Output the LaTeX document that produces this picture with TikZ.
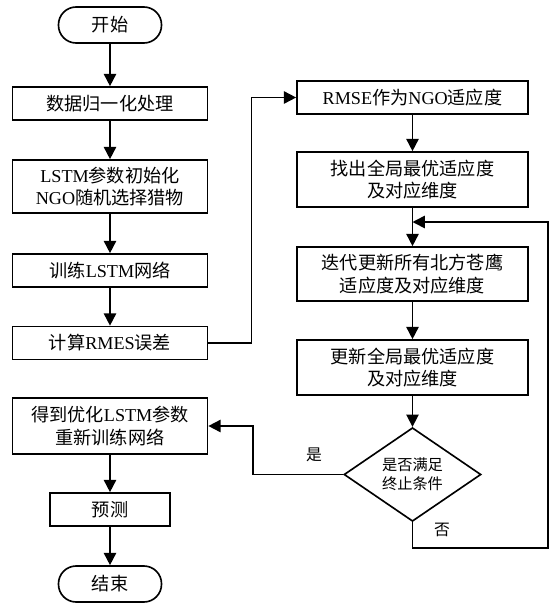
\documentclass[tikz,border=0pt]{standalone}
\usepackage{fontspec}
\setmainfont{Liberation Serif}
\newfontfamily\cjk{Noto Sans CJK SC}
\usetikzlibrary{arrows.meta,shapes.geometric}
\newcommand{\zh}[1]{{\cjk #1}}

\begin{document}
\begin{tikzpicture}[x=0.03cm,y=-0.03cm,line width=1.4pt,
    box/.style={draw,rectangle,minimum width=5.85cm,minimum height=0.99cm,
      align=center,inner sep=0pt,font=\fontsize{15.5}{19.5}\selectfont},
    term/.style={box,rounded corners=0.53cm,minimum width=3.09cm,minimum height=1.08cm},
    test/.style={draw,diamond,minimum width=4.11cm,minimum height=2.49cm,
      align=center,inner sep=0pt,font=\fontsize{13}{16}\selectfont},
    arr/.style={-{Triangle[width=10.5pt,length=10.5pt]}}]
       \useasboundingbox (0,0) rectangle (548,605);
       % left column
       \node[term] (start) at (110, 25.0) {\zh{开始}};
       \node[box ] (norm)  at (110,103.5) {\zh{数据归一化处理}};
       \node[box,minimum height=1.59cm] (init) at (110,186.5) {LSTM\zh{参数初始化}\\NGO\zh{随机选择猎物}};
       \node[box ] (train) at (110,270.5) {\zh{训练}LSTM\zh{网络}};
       \node[box ] (rmes)  at (110,343.0) {\zh{计算}RMES\zh{误差}};
       \node[box,minimum height=1.68cm] (result) at (110,426.0) {\zh{得到优化}LSTM\zh{参数}\\\zh{重新训练网络}};
       \node[box,minimum width=3.6cm] (pred) at (110,509.5) {\zh{预测}};
       \node[term] (stop)  at (110,584.0) {\zh{结束}};
       % right column
       \node[box,minimum width=6.93cm] (fit) at (412.5, 97.5) {RMSE\zh{作为}NGO\zh{适应度}};
       \node[box,minimum width=6.93cm,minimum height=1.65cm] (best) at (412.5,179.5) {\zh{找出全局最优适应度}\\\zh{及对应维度}};
       \node[box,minimum width=6.93cm,minimum height=1.62cm] (iter) at (412.5,274.0) {\zh{迭代更新所有北方苍鹰}\\\zh{适应度及对应维度}};
       \node[box,minimum width=6.93cm,minimum height=1.65cm] (upd)  at (412.5,367.5) {\zh{更新全局最优适应度}\\\zh{及对应维度}};
       \node[test] (cond) at (412.5,474.5) {\zh{是否满足}\\\zh{终止条件}};
       \coordinate (join)  at (412.5,222);
       \coordinate (loopa) at (548,548);
       % connectors
       \draw[arr] (start) -- (norm);
       \draw[arr] (norm)  -- (init);
       \draw[arr] (init)  -- (train);
       \draw[arr] (train) -- (rmes);
       \draw[arr] (rmes.east) -- ++(43,0) |- (fit.west);
       \draw[arr] (fit)   -- (best);
       \draw[arr] (best)  -- (iter);
       \draw[arr] (iter)  -- (upd);
       \draw[arr] (upd)   -- (cond);
       \draw[arr] (cond.west) -- ++(-90,0) |- (result.east);
       \draw[arr] (cond.south) |- (loopa) |- (join);
       \draw[arr] (result) -- (pred);
       \draw[arr] (pred)   -- (stop);
       \node[font=\fontsize{13.5}{16}\selectfont] (yes) at (314,455) {\zh{是}};
       \node[font=\fontsize{13.5}{16}\selectfont] (no)  at (442,530) {\zh{否}};
\end{tikzpicture}
\end{document}
